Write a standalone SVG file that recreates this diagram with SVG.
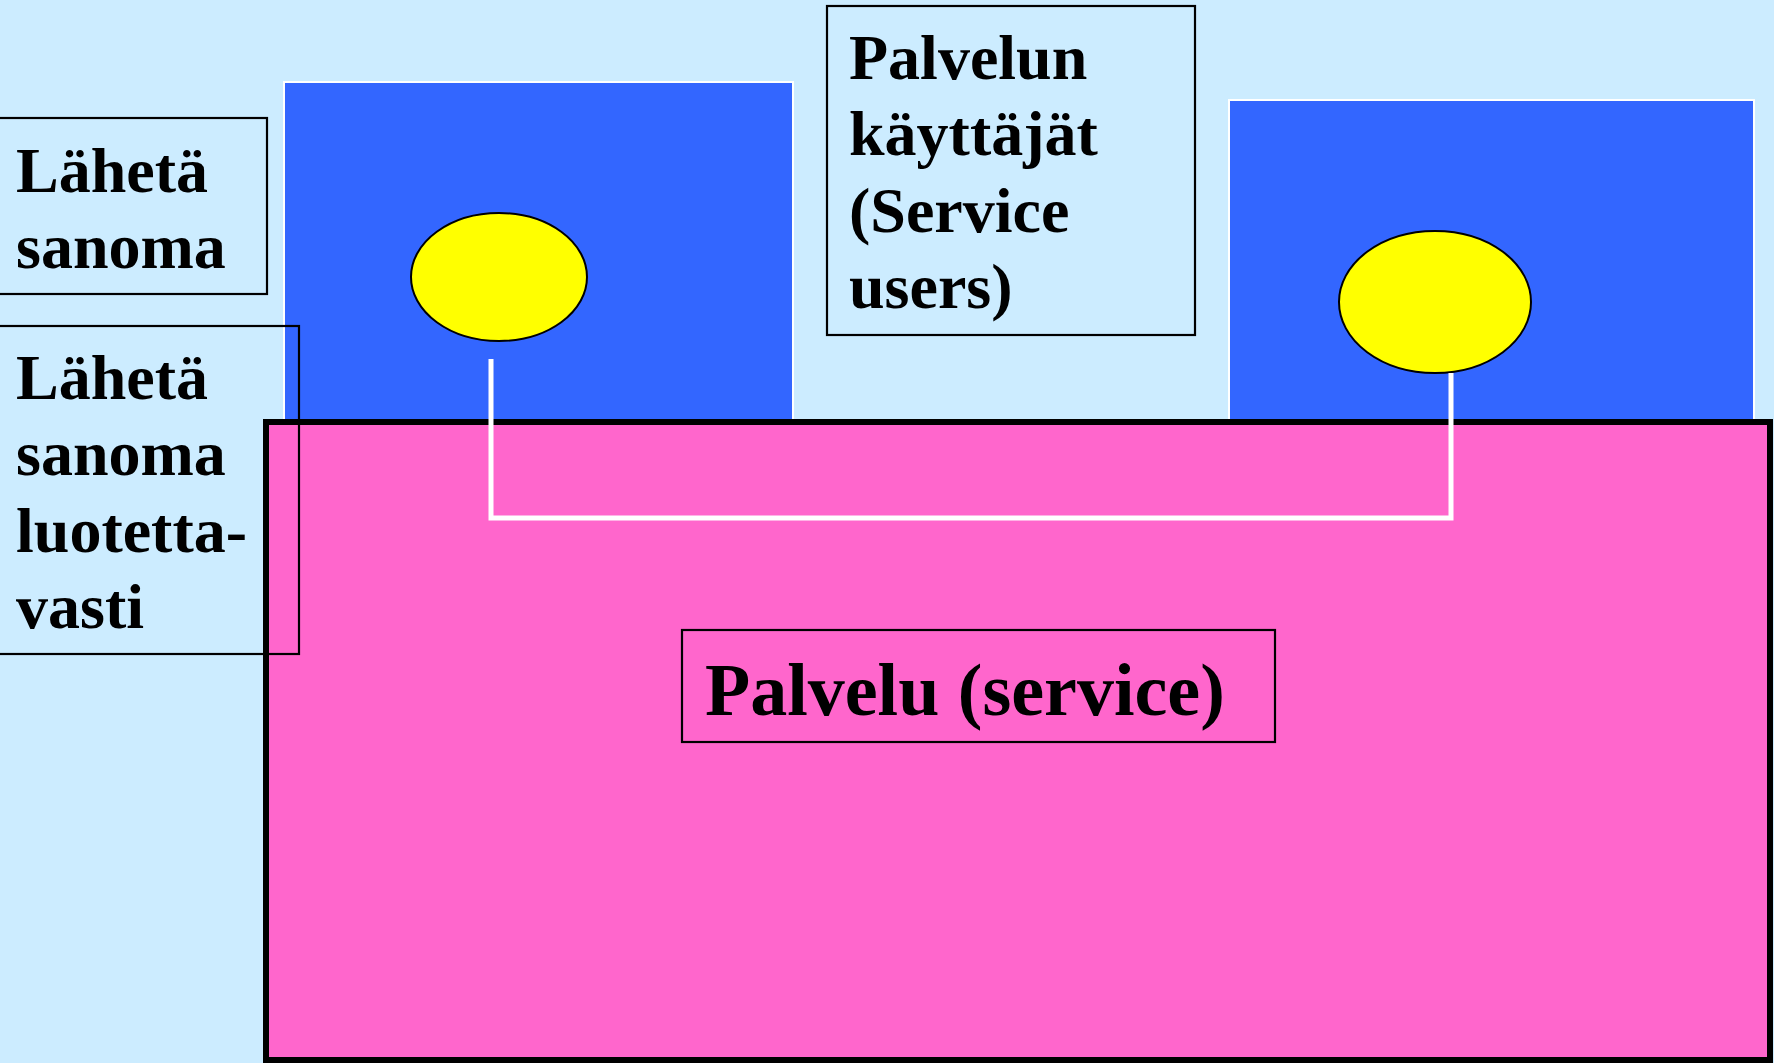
<svg xmlns="http://www.w3.org/2000/svg" width="1774" height="1063" viewBox="0 0 1774 1063">
<style>
.user{fill:#3366FF;stroke:#FFFFFF;stroke-width:2}
.sap{fill:#FFFF00;stroke:#000000;stroke-width:2}
.lbl{fill:none;stroke:#000000;stroke-width:2.2}
.t{font-family:"Liberation Serif","Times New Roman",serif;font-weight:bold;font-size:64px;fill:#000000}
.link{fill:none;stroke:#FFFFFF;stroke-width:5}
</style>
<rect x="0" y="0" width="1774" height="1063" fill="#CCECFF"/>
<g id="user-left"><rect class="user" x="284" y="82" width="509" height="360"/></g>
<g id="user-right"><rect class="user" x="1229" y="100" width="525" height="340"/></g>
<g id="service"><rect x="266" y="422" width="1504" height="638" fill="#FF66CC" stroke="#000000" stroke-width="6"/></g>
<g id="sap-left"><ellipse class="sap" cx="499" cy="277" rx="88" ry="64"/></g>
<g id="sap-right"><ellipse class="sap" cx="1435" cy="302" rx="96" ry="71"/></g>
<g id="connectors"><polyline class="link" points="491,359 491,518 1451,518 1451,373"/></g>
<g id="label-send"><rect class="lbl" x="-2" y="118" width="269" height="176"/>
<text class="t" x="16" y="192">Lähetä</text><text class="t" x="16" y="268">sanoma</text></g>
<g id="label-send-reliable"><rect class="lbl" x="-2" y="326" width="301" height="328"/>
<text class="t" x="16" y="399">Lähetä</text><text class="t" x="16" y="475">sanoma</text><text class="t" x="16" y="552">luotetta-</text><text class="t" x="16" y="628">vasti</text></g>
<g id="label-users"><rect class="lbl" x="827" y="6" width="368" height="329"/>
<text class="t" x="849" y="79">Palvelun</text><text class="t" x="849" y="155">käyttäjät</text><text class="t" x="849" y="232">(Service</text><text class="t" x="849" y="308">users)</text></g>
<g id="label-service"><rect class="lbl" x="682" y="630" width="593" height="112"/>
<text class="t" x="705" y="715" style="font-size:74px">Palvelu (service)</text></g>
</svg>
